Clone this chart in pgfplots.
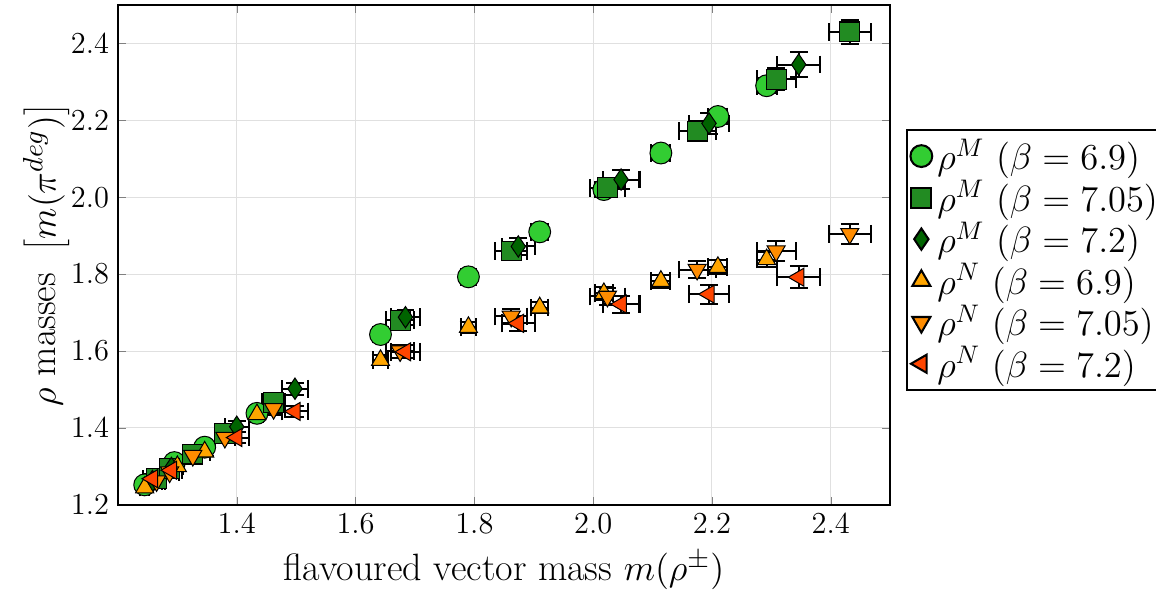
\documentclass[border=0pt]{standalone}
\usepackage{pgfplots}
\pgfplotsset{compat=1.18}
\usepackage{pgfplotstable}

\definecolor{cA}{HTML}{32CD32}
\definecolor{cB}{HTML}{228B22}
\definecolor{cC}{HTML}{006400}
\definecolor{cD}{HTML}{FFA500}
\definecolor{cE}{HTML}{FF8C00}
\definecolor{cF}{HTML}{FF4500}

% rho^M, beta = 6.9
\pgfplotstableread{
x     y     ex    ey
1.245 1.252 0.008 0.010
1.295 1.310 0.009 0.011
1.346 1.350 0.009 0.011
1.434 1.438 0.010 0.012
1.642 1.643 0.012 0.013
1.790 1.793 0.013 0.014
1.910 1.910 0.014 0.015
2.018 2.020 0.015 0.016
2.114 2.115 0.016 0.017
2.210 2.210 0.016 0.018
2.292 2.290 0.017 0.019
}\mAsix
% rho^M, beta = 7.05
\pgfplotstableread{
x     y     ex    ey
1.265 1.268 0.014 0.011
1.287 1.295 0.015 0.012
1.326 1.332 0.016 0.013
1.380 1.385 0.017 0.014
1.462 1.467 0.019 0.015
1.675 1.680 0.024 0.018
1.862 1.860 0.027 0.021
2.024 2.025 0.029 0.024
2.175 2.172 0.031 0.026
2.308 2.307 0.033 0.028
2.432 2.430 0.035 0.032
}\mBseven
% rho^M, beta = 7.2
\pgfplotstableread{
x     y     ex    ey
1.258 1.262 0.016 0.012
1.290 1.296 0.017 0.013
1.400 1.403 0.020 0.014
1.498 1.502 0.022 0.016
1.684 1.688 0.025 0.019
1.874 1.872 0.028 0.022
2.047 2.046 0.031 0.025
2.195 2.192 0.033 0.028
2.346 2.345 0.036 0.032
}\mCseven
% rho^N, beta = 6.9
\pgfplotstableread{
x     y     ex    ey
1.245 1.245 0.008 0.010
1.300 1.300 0.009 0.011
1.346 1.338 0.009 0.011
1.434 1.435 0.010 0.012
1.642 1.576 0.012 0.013
1.790 1.662 0.013 0.014
1.910 1.713 0.014 0.015
2.018 1.750 0.015 0.016
2.114 1.782 0.016 0.017
2.210 1.818 0.016 0.018
2.292 1.838 0.017 0.019
}\nDsix
% rho^N, beta = 7.05
\pgfplotstableread{
x     y     ex    ey
1.265 1.262 0.014 0.011
1.287 1.285 0.015 0.012
1.326 1.328 0.016 0.013
1.380 1.375 0.017 0.014
1.462 1.450 0.019 0.015
1.675 1.600 0.024 0.017
1.862 1.690 0.027 0.019
2.024 1.742 0.029 0.021
2.175 1.812 0.031 0.023
2.308 1.860 0.033 0.025
2.432 1.905 0.035 0.026
}\nEseven
% rho^N, beta = 7.2
\pgfplotstableread{
x     y     ex    ey
1.258 1.268 0.016 0.012
1.290 1.290 0.017 0.013
1.400 1.375 0.020 0.014
1.498 1.443 0.022 0.015
1.684 1.598 0.025 0.017
1.874 1.672 0.028 0.020
2.047 1.722 0.031 0.022
2.195 1.748 0.033 0.025
2.346 1.792 0.036 0.028
}\nFseven

\begin{document}
\begin{tikzpicture}
\begin{axis}[
    name=ax,
    scale only axis,
    width=10.69cm, height=6.92cm,
    xmin=1.2, xmax=2.5,
    ymin=1.2, ymax=2.5,
    xtick={1.4,1.6,...,2.41},
    ytick={1.2,1.4,...,2.41},
    xticklabel style={/pgf/number format/.cd,fixed,fixed zerofill,precision=1},
    yticklabel style={/pgf/number format/.cd,fixed,fixed zerofill,precision=1},
    tick label style={font=\fontsize{12}{14}\selectfont},
    tick align=inside,
    major tick length=0.11cm,
    axis line style={line width=0.8pt},
    grid=major,
    grid style={line width=0.4pt, draw=black!12},
    xlabel={flavoured vector mass $m(\rho^{\pm})$},
    ylabel={$\rho$ masses $\;\left[m(\pi^{deg})\right]$},
    label style={font=\fontsize{15}{18}\selectfont},
    ylabel style={yshift=-0.22cm},
    legend style={at={(1.02,0.49)}, anchor=west, draw=black, line width=0.8pt,
        font=\fontsize{14}{17}\selectfont, inner sep=1.5pt, row sep=-1.2pt},
    legend cell align=left,
    every axis plot/.append style={only marks, mark options={draw=black, line width=0.6pt}},
    error bars/error bar style={black, line width=0.8pt},
    error bars/error mark=-,
    error bars/error mark options={rotate=90, black, line width=0.8pt, mark size=3.5pt},
]
\addplot[mark=*, mark size=4.3pt, mark options={fill=cA},
    error bars/.cd, x dir=both, x explicit, y dir=both, y explicit]
    table[x=x, y=y, x error=ex, y error=ey] {\mAsix};
\addlegendentry{$\rho^M\ (\beta=6.9)$}
\addplot[mark=square*, mark size=3.9pt, mark options={fill=cB},
    error bars/.cd, x dir=both, x explicit, y dir=both, y explicit]
    table[x=x, y=y, x error=ex, y error=ey] {\mBseven};
\addlegendentry{$\rho^M\ (\beta=7.05)$}
\addplot[mark=diamond*, mark size=4.2pt, mark options={fill=cC, xscale=0.9},
    error bars/.cd, x dir=both, x explicit, y dir=both, y explicit]
    table[x=x, y=y, x error=ex, y error=ey] {\mCseven};
\addlegendentry{$\rho^M\ (\beta=7.2)$}
\addplot[mark=triangle*, mark size=4.1pt, mark options={fill=cD},
    error bars/.cd, x dir=both, x explicit, y dir=both, y explicit]
    table[x=x, y=y, x error=ex, y error=ey] {\nDsix};
\addlegendentry{$\rho^N\ (\beta=6.9)$}
\addplot[mark=triangle*, mark size=4.1pt, mark options={fill=cE, rotate=180},
    error bars/.cd, x dir=both, x explicit, y dir=both, y explicit]
    table[x=x, y=y, x error=ex, y error=ey] {\nEseven};
\addlegendentry{$\rho^N\ (\beta=7.05)$}
\addplot[mark=triangle*, mark size=4.1pt, mark options={fill=cF, rotate=90},
    error bars/.cd, x dir=both, x explicit, y dir=both, y explicit]
    table[x=x, y=y, x error=ex, y error=ey] {\nFseven};
\addlegendentry{$\rho^N\ (\beta=7.2)$}
\end{axis}
\pgfresetboundingbox
\path ([xshift=-1.633cm, yshift=-1.218cm]ax.south west) rectangle ([xshift=3.68cm, yshift=0.069cm]ax.north east);
\end{tikzpicture}
\end{document}
